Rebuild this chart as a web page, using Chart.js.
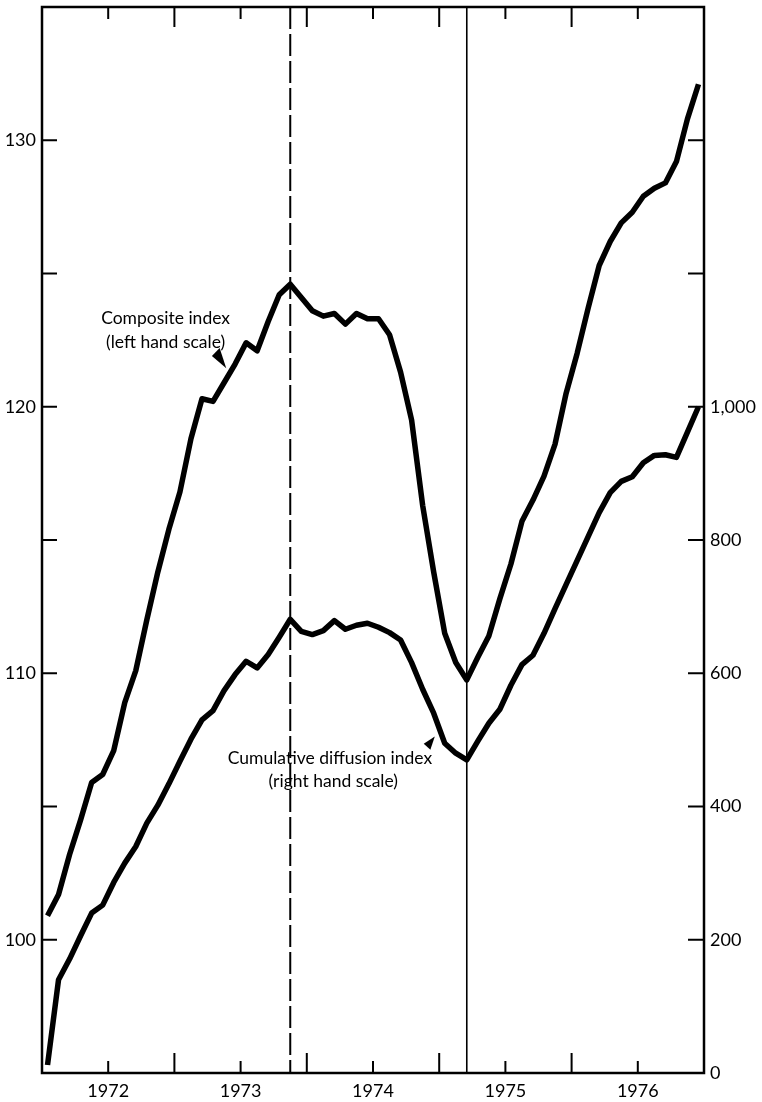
<!DOCTYPE html>
<html>
<head>
<meta charset="utf-8">
<script src="https://cdn.jsdelivr.net/npm/chart.js@4/dist/chart.umd.min.js"></script>
<style>
  html, body { margin: 0; padding: 0; background: #fff; }
  #wrap { width: 762px; height: 1102px; }
</style>
</head>
<body>
<div id="wrap"><canvas id="chart" width="762" height="1102"></canvas></div>
<script>
// monthly data, Jan 1972 .. Dec 1976
const years = [1972, 1973, 1974, 1975, 1976];
const composite = [
  100.9, 101.7, 103.2, 104.5, 105.9, 106.2, 107.1, 108.9, 110.1, 112.0, 113.8, 115.4,
  116.8, 118.8, 120.3, 120.2, 120.9, 121.6, 122.4, 122.1, 123.2, 124.2, 124.6, 124.1,
  123.6, 123.4, 123.5, 123.1, 123.5, 123.3, 123.3, 122.7, 121.3, 119.5, 116.3, 113.8,
  111.5, 110.4, 109.75, 110.6, 111.4, 112.8, 114.1, 115.7, 116.5, 117.4, 118.6, 120.5,
  122.0, 123.7, 125.3, 126.2, 126.9, 127.3, 127.9, 128.2, 128.4, 129.2, 130.8, 132.1
];
const diffusion = [
  12, 140, 171, 206, 240, 252, 286, 315, 340, 375, 402, 434,
  468, 501, 530, 544, 574, 598, 618, 608, 628, 654, 681, 663,
  658, 664, 679, 666, 672, 675, 669, 661, 650, 616, 576, 540,
  495, 480, 470, 498, 525, 546, 582, 613, 627, 660, 697, 733,
  769, 805, 841, 871, 888, 895, 916, 927, 928, 924, 962, 1000
];
const leftLabels = [100, 110, 120, 130];
const rightLabels = [0, 200, 400, 600, 800, 1000];
const peakMonth = 22;   // Nov 1973, dashed
const troughMonth = 38; // Mar 1975, solid

const FONT = 'Lato, "Open Sans", sans-serif';
const INK = '#000';

const toPoints = arr => arr.map((v, i) => ({ x: i, y: v }));
const noPad = s => { s.paddingTop = 0; s.paddingBottom = 0; };

const overlay = {
  id: 'overlay',
  beforeDatasetsDraw(chart) {
    const { ctx, chartArea: a, scales } = chart;
    ctx.save();
    ctx.strokeStyle = INK;
    // peak: dashed line
    let x = scales.x.getPixelForValue(peakMonth);
    ctx.lineWidth = 2;
    ctx.setLineDash([22, 5]);
    ctx.beginPath(); ctx.moveTo(x, a.top); ctx.lineTo(x, a.bottom); ctx.stroke();
    // trough: solid line
    x = scales.x.getPixelForValue(troughMonth);
    ctx.setLineDash([]);
    ctx.lineWidth = 1.6;
    ctx.beginPath(); ctx.moveTo(x, a.top); ctx.lineTo(x, a.bottom); ctx.stroke();
    ctx.restore();
  },
  afterDatasetsDraw(chart) {
    const { ctx, chartArea: a, scales } = chart;
    const sx = scales.x, sy = scales.y, sy2 = scales.y2;
    ctx.save();
    ctx.strokeStyle = INK;
    ctx.fillStyle = INK;

    // frame
    ctx.lineWidth = 2.5;
    ctx.strokeRect(a.left, a.top, a.right - a.left, a.bottom - a.top);

    // x ticks, inward top and bottom
    ctx.lineWidth = 2;
    ctx.beginPath();
    years.forEach((yr, k) => {
      const mid = sx.getPixelForValue(k * 12 + 5.5);
      ctx.moveTo(mid, a.bottom); ctx.lineTo(mid, a.bottom - 12);
      ctx.moveTo(mid, a.top); ctx.lineTo(mid, a.top + 12);
      if (k > 0) {
        const b = sx.getPixelForValue(k * 12 - 0.5);
        ctx.moveTo(b, a.bottom); ctx.lineTo(b, a.bottom - 20);
        ctx.moveTo(b, a.top); ctx.lineTo(b, a.top + 20);
      }
    });
    // y ticks, inward
    sy.ticks.forEach(t => {
      if (t.value <= sy.min || t.value >= sy.max) return;
      const y = sy.getPixelForValue(t.value);
      ctx.moveTo(a.left, y); ctx.lineTo(a.left + 15, y);
    });
    sy2.ticks.forEach(t => {
      if (t.value <= sy2.min || t.value >= sy2.max) return;
      const y = sy2.getPixelForValue(t.value);
      ctx.moveTo(a.right, y); ctx.lineTo(a.right - 16, y);
    });
    ctx.stroke();

    // annotations
    ctx.font = '17.5px ' + FONT;
    ctx.textAlign = 'center';
    ctx.textBaseline = 'middle';
    let cx = sx.getPixelForValue(10.7);
    ctx.fillText('Composite index', cx, sy.getPixelForValue(123.33));
    ctx.fillText('(left hand scale)', cx, sy.getPixelForValue(122.43));
    cx = sx.getPixelForValue(25.6);
    ctx.fillText('Cumulative diffusion index', cx, sy2.getPixelForValue(472));
    ctx.fillText('(right hand scale)', sx.getPixelForValue(25.9), sy2.getPixelForValue(437));

    // arrow heads
    const tri = (pts) => {
      ctx.beginPath();
      pts.forEach(([m, v, s], i) => {
        const px = sx.getPixelForValue(m), py = s.getPixelForValue(v);
        i ? ctx.lineTo(px, py) : ctx.moveTo(px, py);
      });
      ctx.closePath(); ctx.fill();
    };
    tri([[16.2, 121.44, sy], [14.9, 121.9, sy], [15.6, 122.2, sy]]);
    tri([[35.1, 505, sy2], [34.1, 494, sy2], [34.7, 485, sy2]]);
    ctx.restore();
  }
};

new Chart(document.getElementById('chart'), {
  type: 'line',
  data: {
    datasets: [
      { label: 'Composite index', data: toPoints(composite), yAxisID: 'y' },
      { label: 'Cumulative diffusion index', data: toPoints(diffusion), yAxisID: 'y2' }
    ]
  },
  options: {
    responsive: false,
    animation: false,
    events: [],
    layout: { padding: { top: 7, left: 0, right: 0, bottom: 0 } },
    elements: {
      line: { borderColor: INK, borderWidth: 5.5, tension: 0, borderJoinStyle: 'round', fill: false },
      point: { radius: 0 }
    },
    plugins: { legend: { display: false }, tooltip: { enabled: false } },
    scales: {
      x: {
        type: 'linear', min: -0.5, max: 59.5,
        grid: { display: false, drawTicks: false },
        border: { display: false },
        afterBuildTicks: s => { s.ticks = years.map((yr, k) => ({ value: k * 12 + 5.5 })); },
        afterFit: s => { s.height = 29; s.paddingLeft = 0; s.paddingRight = 0; },
        ticks: {
          padding: 7, color: INK, font: { family: FONT, size: 18 },
          autoSkip: false, maxRotation: 0,
          callback: v => years[Math.round((v - 5.5) / 12)]
        }
      },
      y: {
        position: 'left', min: 95, max: 135,
        grid: { display: false, drawTicks: false },
        border: { display: false },
        afterFit: s => { s.width = 42; noPad(s); },
        ticks: {
          stepSize: 5, padding: 6, color: INK, font: { family: FONT, size: 18 },
          callback: v => leftLabels.includes(v) ? String(v) : ''
        }
      },
      y2: {
        position: 'right', min: 0, max: 1600,
        grid: { display: false, drawTicks: false },
        border: { display: false },
        afterFit: s => { s.width = 58; noPad(s); },
        ticks: {
          stepSize: 200, padding: 6, color: INK, font: { family: FONT, size: 18 },
          callback: v => rightLabels.includes(v) ? v.toLocaleString('en-US') : ''
        }
      }
    }
  },
  plugins: [overlay]
});
</script>
</body>
</html>
